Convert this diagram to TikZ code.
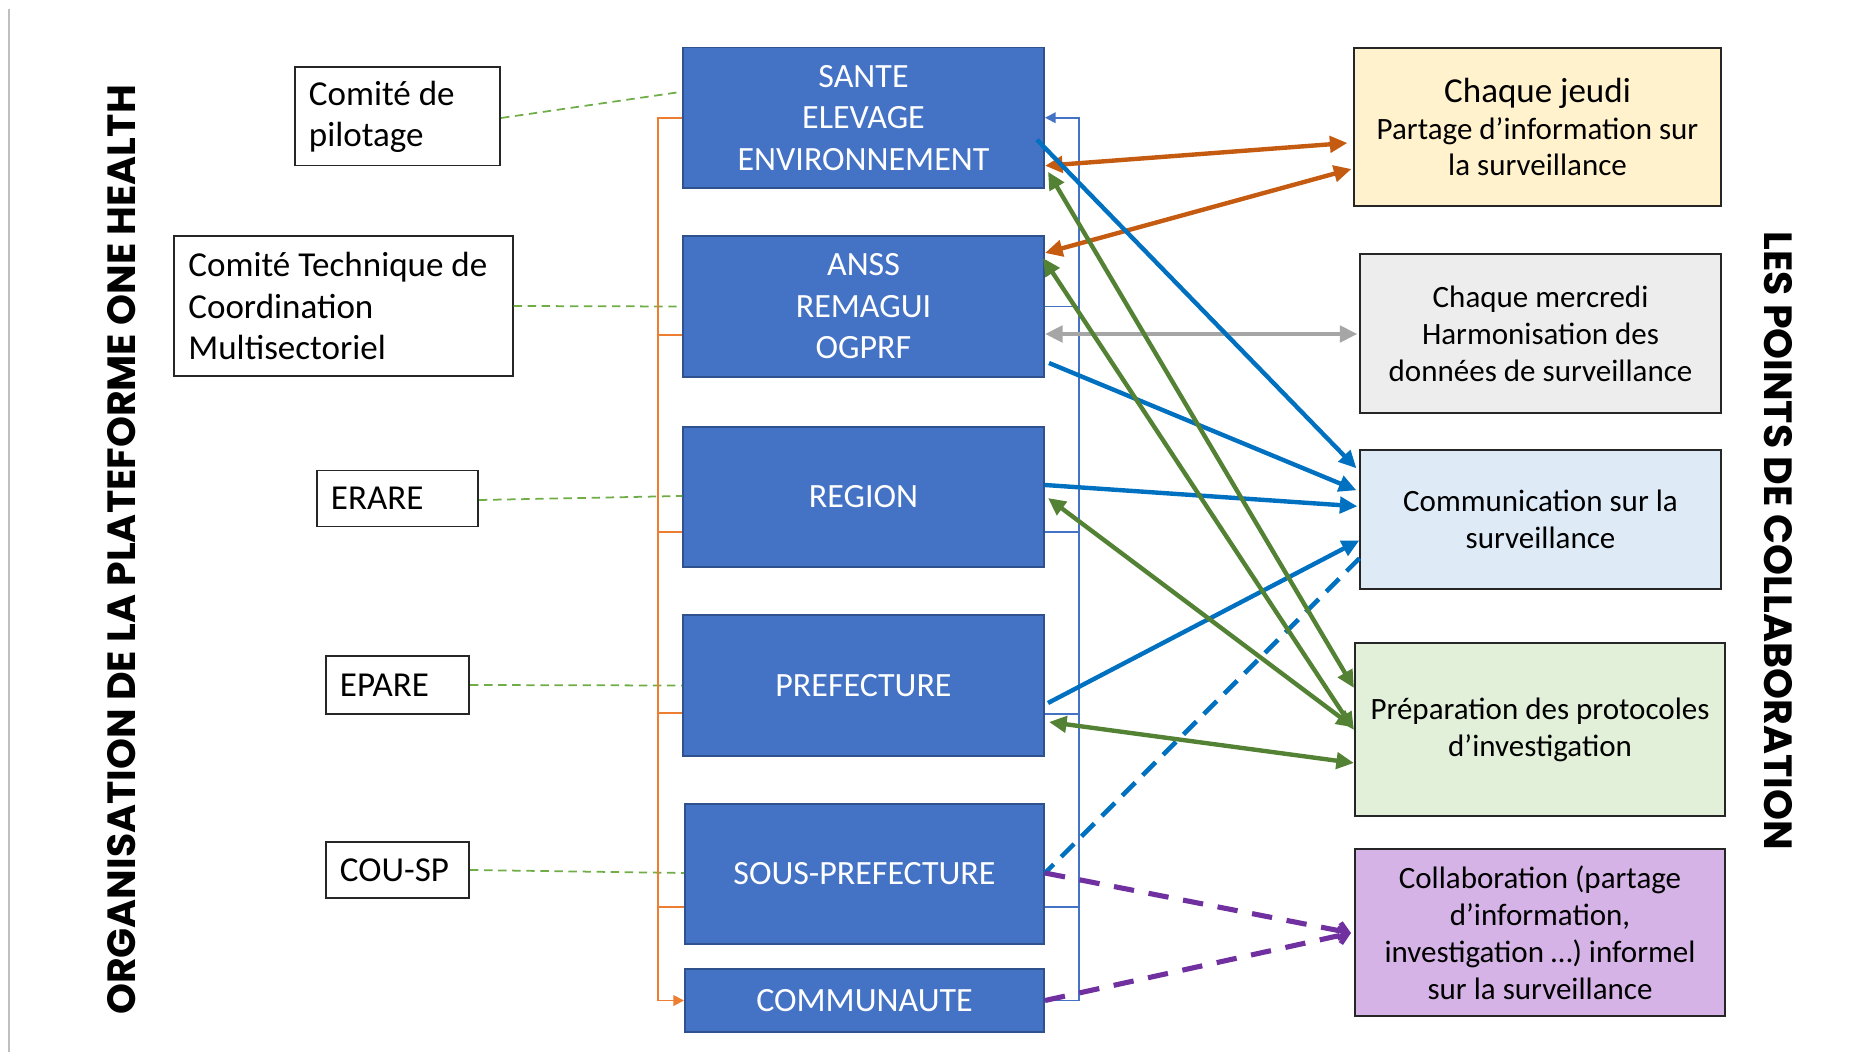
\documentclass[tikz,border=0pt]{standalone}
\usepackage{fontspec}
\setmainfont{Carlito}
\newfontfamily\titlefont{Poppins}
\usetikzlibrary{arrows.meta,calc}

\definecolor{boxblue}{HTML}{4472C4}
\definecolor{boxedge}{HTML}{2F528F}
\definecolor{arrorange}{HTML}{C55A11}
\definecolor{lineorange}{HTML}{ED7D31}
\definecolor{arrgreen}{HTML}{548235}
\definecolor{dashgreen}{HTML}{70AD47}
\definecolor{arrblue}{HTML}{0070C0}
\definecolor{arrgray}{HTML}{A6A6A6}
\definecolor{arrpurple}{HTML}{7030A0}
\definecolor{fyellow}{HTML}{FFF2CC}
\definecolor{fgray}{HTML}{EDEDED}
\definecolor{fblue}{HTML}{DEEBF7}
\definecolor{fgreen}{HTML}{E2F0D9}
\definecolor{fpurple}{HTML}{D5B3E6}

\tikzset{
  levelbox/.style={draw=boxedge, line width=0.5pt, fill=boxblue, text=white,
    minimum width=3.61cm, inner sep=0pt, align=center,
    font=\fontsize{9.67}{11.8}\selectfont},
  bodybox/.style={draw=black!85, line width=0.55pt, fill=white, align=flush left,
    inner xsep=0.14cm, inner ysep=0pt,
    font=\fontsize{9.96}{11.67}\selectfont},
  pointbox/.style={draw=black!85, line width=0.55pt, align=center, inner sep=0pt,
    font=\fontsize{8.82}{10.5}\selectfont},
  bigtip/.tip={Triangle[length=5pt,width=4.6pt]},
  smalltip/.tip={Triangle[length=3pt,width=3pt]},
  orangearr/.style={draw=arrorange, line width=1.25pt, bigtip-bigtip},
  greenarr/.style={draw=arrgreen, line width=1.25pt, bigtip-bigtip},
  grayarr/.style={draw=arrgray, line width=1.25pt, bigtip-bigtip},
  bluearr/.style={draw=arrblue, line width=1.25pt, -bigtip},
  bluedash/.style={draw=arrblue, line width=1.3pt, dash pattern=on 5.2pt off 3pt},
  purpledash/.style={draw=arrpurple, line width=1.45pt, dash pattern=on 5.8pt off 4.2pt,
    -{Straight Barb[length=2.4pt,width=4.6pt,line width=1.45pt]}},
  greendash/.style={draw=dashgreen, line width=0.5pt, dash pattern=on 2.4pt off 1.6pt},
  orangeline/.style={draw=lineorange, line width=0.5pt},
  blueline/.style={draw=boxblue, line width=0.5pt},
  vtitle/.style={font=\titlefont\bfseries\fontsize{11.2}{13}\selectfont, inner sep=0pt}
}

\begin{document}
\begin{tikzpicture}[x=0.01cm, y=-0.01cm]
\useasboundingbox (0,0) rectangle (1870,1052);

% thin rule along the left margin
\draw[black!25, line width=0.3pt] (9,9) -- (9,1052);

% vertical titles
\node[vtitle, rotate=90] (titleL) at (121.5,550) {ORGANISATION DE LA PLATEFORME ONE HEALTH};
\node[vtitle, rotate=-90] (titleR) at (1778,540.5) {LES POINTS DE COLLABORATION};

% levels of the platform
\node[levelbox, minimum height=1.405cm] (sante) at (863.5,117.75) {SANTE\\ELEVAGE\\ENVIRONNEMENT};
\node[levelbox, minimum height=1.41cm] (anss) at (863.5,306.5) {ANSS\\REMAGUI\\OGPRF};
\node[levelbox, minimum height=1.40cm] (region) at (863.5,497) {REGION};
\node[levelbox, minimum height=1.41cm] (pref) at (863.5,685.5) {PREFECTURE};
\node[levelbox, minimum height=1.40cm, minimum width=3.59cm] (spref) at (864.5,874) {SOUS-PREFECTURE};
\node[levelbox, minimum height=0.63cm, minimum width=3.59cm] (comm) at (864.5,1000.5) {COMMUNAUTE};

% governing bodies
\node[bodybox, text width=1.77cm, minimum height=0.98cm] (pilot) at (397.5,116.5) {Comité de\\pilotage};
\node[bodybox, text width=3.10cm, minimum height=1.39cm] (ctcm) at (343.5,306) {Comité Technique de\\Coordination\\Multisectoriel};
\node[bodybox, text width=1.33cm, minimum height=0.56cm] (erare) at (397.5,498.5) {ERARE};
\node[bodybox, text width=1.15cm, minimum height=0.58cm] (epare) at (397.5,685) {EPARE};
\node[bodybox, text width=1.15cm, minimum height=0.56cm] (cousp) at (397.5,870) {COU-SP};

% collaboration points
\node[pointbox, fill=fyellow, minimum width=3.66cm, minimum height=1.57cm] (jeudi) at (1537.5,127)
  {{\fontsize{9.96}{11.1}\selectfont Chaque jeudi}\\Partage d’information sur\\la surveillance};
\node[pointbox, fill=fgray, minimum width=3.60cm, minimum height=1.59cm] (mercredi) at (1540.5,333.5)
  {Chaque mercredi\\Harmonisation des\\données de surveillance};
\node[pointbox, fill=fblue, minimum width=3.60cm, minimum height=1.39cm] (comsurv) at (1540.5,519.3)
  {Communication sur la\\surveillance};
\node[pointbox, fill=fgreen, minimum width=3.70cm, minimum height=1.72cm] (prep) at (1540,729.5)
  {Préparation des protocoles\\d’investigation};
\node[pointbox, fill=fpurple, minimum width=3.70cm, minimum height=1.66cm] (collab) at (1540,932.5)
  {Collaboration (partage\\d’information,\\investigation …) informel\\sur la surveillance};

% dashed links from the governing bodies
\draw[greendash] ($(pilot.east)+(0,1.5)$) -- ($(sante.west)+(0,-26)$);
\draw[greendash] (ctcm.east) -- (anss.west);
\draw[greendash] ($(erare.east)+(0,1.5)$) -- ($(region.west)+(0,-1)$);
\draw[greendash] (epare.east) -- (pref.west);
\draw[greendash] (cousp.east) -- ($(spref.west)+(0,-1)$);

% descending chain on the left
\draw[orangeline, -smalltip] (sante.west) -- ++(-24,0) |- (comm.west);
\draw[orangeline] ($(anss.west)+(0,28.5)$) -- ++(-24,0);
\draw[orangeline] ($(region.west)+(0,35)$) -- ++(-24,0);
\draw[orangeline] ($(pref.west)+(0,27.5)$) -- ++(-24,0);
\draw[orangeline] ($(spref.west)+(0,33)$) -- ++(-26,0);

% ascending chain on the right
\draw[blueline, -smalltip] (comm.east) -- ++(34,0) |- (sante.east);
\draw[blueline] (anss.east) -- ++(34,0);
\draw[blueline] ($(region.east)+(0,35)$) -- ++(34,0);
\draw[blueline] ($(pref.east)+(0,28.5)$) -- ++(34,0);
\draw[blueline] ($(spref.east)+(0,33)$) -- ++(34,0);

% weekly meetings
\draw[orangearr] ($(sante.east)+(0,48)$) -- ($(jeudi.west)+(-6,16)$);
\draw[orangearr] ($(anss.east)+(0,-53.5)$) -- ($(jeudi.west)+(-2,42)$);
\draw[grayarr] ($(anss.east)+(0,27.5)$) -- ($(mercredi.west)+(-2,0.5)$);

% communication
\draw[bluearr] ($(sante.east)+(-8,22)$) -- ($(comsurv.west)+(-3,-51)$);
\draw[bluearr] ($(anss.east)+(4,56.5)$) -- ($(comsurv.west)+(-3,-29)$);
\draw[bluearr] ($(region.east)+(0,-12)$) -- ($(comsurv.west)+(-2,-13)$);
\draw[bluearr] ($(pref.east)+(3,17.5)$) -- ($(comsurv.west)+(0,21)$);
\draw[bluedash] ($(comsurv.west)+(0,39)$) -- ($(spref.east)+(0,-1)$);

% investigation protocols
\draw[greenarr] ($(sante.east)+(3,54)$) -- ($(prep.west)+(0,-41.5)$);
\draw[greenarr] ($(anss.east)+(-2,-48.5)$) -- ($(prep.west)+(0,0.5)$);
\draw[greenarr] ($(region.east)+(3,1)$) -- ($(prep.west)+(0,-2)$);
\draw[greenarr] ($(pref.east)+(4,36.5)$) -- ($(prep.west)+(0,33.5)$);

% informal collaboration
\draw[purpledash] ($(spref.east)+(0,-1)$) -- ($(collab.west)+(-3,0.5)$);
\draw[purpledash] (comm.east) -- ($(collab.west)+(-3,0.5)$);
\end{tikzpicture}
\end{document}
